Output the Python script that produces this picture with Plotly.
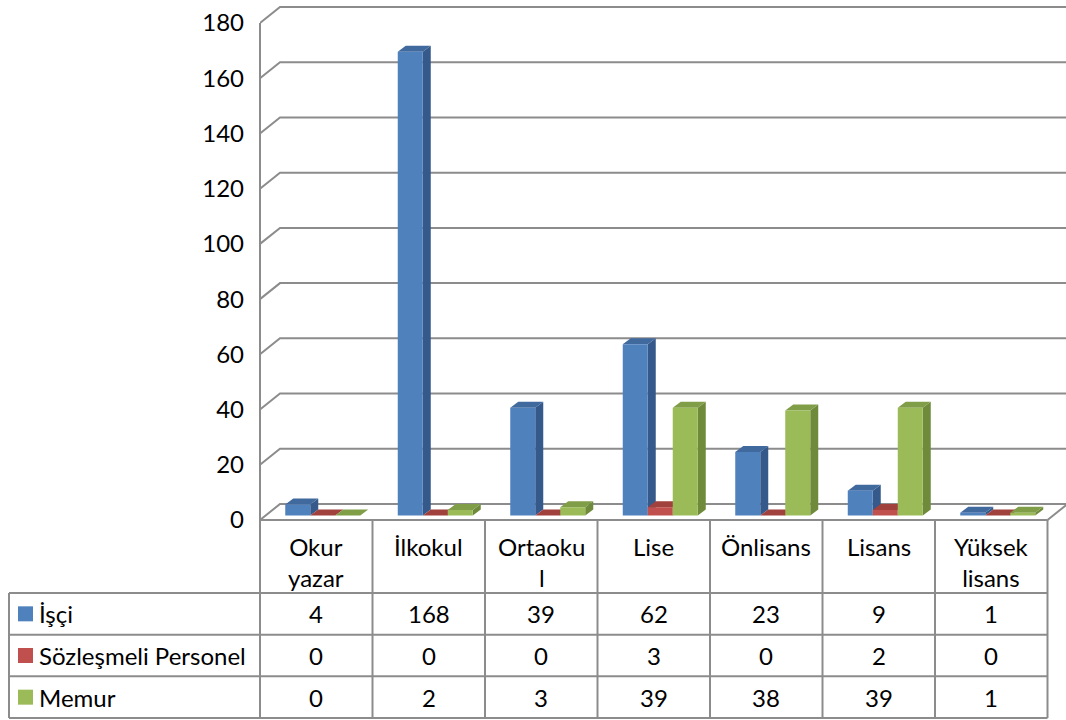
import plotly.graph_objects as go

# ---------------- data ----------------
categories = ["Okur<br>yazar", "İlkokul", "Ortaoku<br>l", "Lise", "Önlisans", "Lisans", "Yüksek<br>lisans"]
series_names = ["İşçi", "Sözleşmeli Personel", "Memur"]
isci_values = [4, 168, 39, 62, 23, 9, 1]
sozlesmeli_values = [0, 0, 0, 3, 0, 2, 0]
memur_values = [0, 2, 3, 39, 38, 39, 1]
y_tick_values = [0, 20, 40, 60, 80, 100, 120, 140, 160, 180]

series_values = [isci_values, sozlesmeli_values, memur_values]

# ---------------- styles / layout ----------------
front_colors = ["#4F81BD", "#C0504D", "#9BBB59"]
side_colors = ["#34598A", "#8C3836", "#6E8A3A"]
top_colors = ["#40699E", "#A0413E", "#809D48"]
GRID_COLOR = "#8C8C8C"
FONT = "Lato"
FS = 24

W, H = 1066, 720
PLOT_LEFT = 260
CAT_PX = 112.5
Y0_PX, YMAX_PX = 520, 23
YMAX = 180
PX_PER_Y = (Y0_PX - YMAX_PX) / YMAX
x_range = [-0.5, -0.5 + (W - PLOT_LEFT) / CAT_PX]
y_range = [-(H - Y0_PX) / PX_PER_Y, Y0_PX / PX_PER_Y]


def ux(px):
    return px / CAT_PX


def uy(px):
    return px / PX_PER_Y


def paper_x(px):
    return (px - PLOT_LEFT) / (W - PLOT_LEFT)


def paper_y(py):
    return (H - py) / H


WALL_DX, WALL_DY = ux(20), uy(16)
BAR_DX, BAR_DY = ux(6.5), uy(4.5)
DEPTH_DX, DEPTH_DY = ux(8), uy(6)
GAP = 1 / 3
BAR_W = (1 - GAP) / 3
N = len(categories)

shapes = []
# back wall gridlines with 3D left diagonal
for v in y_tick_values:
    shapes.append(dict(
        type="path", xref="x", yref="y", layer="below",
        path=f"M {-0.5},{v} L {-0.5 + WALL_DX},{v + WALL_DY} L {x_range[1] + 1},{v + WALL_DY}",
        line=dict(color=GRID_COLOR, width=2)))
# floor right diagonal
shapes.append(dict(
    type="path", xref="x", yref="y", layer="below",
    path=f"M {N - 0.5},0 L {N - 0.5 + WALL_DX},{WALL_DY}",
    line=dict(color=GRID_COLOR, width=2)))

fig = go.Figure()

for k, (name, vals) in enumerate(zip(series_names, series_values)):
    xs = []
    for i, v in enumerate(vals):
        xl = i - 0.5 + GAP / 2 + k * BAR_W + BAR_DX
        xr = xl + BAR_W
        yb = BAR_DY
        yt = yb + v
        xs.append(xl + BAR_W / 2)
        # side face
        shapes.append(dict(
            type="path", xref="x", yref="y", layer="below",
            path=(f"M {xr},{yb} L {xr + DEPTH_DX},{yb + DEPTH_DY} "
                  f"L {xr + DEPTH_DX},{yt + DEPTH_DY} L {xr},{yt} Z"),
            fillcolor=side_colors[k], line=dict(width=0)))
        # top face
        shapes.append(dict(
            type="path", xref="x", yref="y", layer="below",
            path=(f"M {xl},{yt} L {xr},{yt} L {xr + DEPTH_DX},{yt + DEPTH_DY} "
                  f"L {xl + DEPTH_DX},{yt + DEPTH_DY} Z"),
            fillcolor=top_colors[k], line=dict(width=0)))
    fig.add_trace(go.Bar(
        x=xs, y=vals, base=BAR_DY, width=BAR_W, name=name,
        marker=dict(color=front_colors[k], line=dict(width=0)),
        showlegend=False))

# ---------------- data table ----------------
TABLE_LEFT = 9
TABLE_RIGHT = PLOT_LEFT + N * CAT_PX
TABLE_TOP = 520
HEADER_BOTTOM = 593
ROW_H = (718 - HEADER_BOTTOM) / 3
TABLE_BOTTOM = HEADER_BOTTOM + 3 * ROW_H


def hline(py, x0, x1):
    shapes.append(dict(type="line", xref="paper", yref="paper",
                       x0=paper_x(x0), x1=paper_x(x1), y0=paper_y(py), y1=paper_y(py),
                       line=dict(color=GRID_COLOR, width=2)))


def vline(px, y0, y1):
    shapes.append(dict(type="line", xref="paper", yref="paper",
                       x0=paper_x(px), x1=paper_x(px), y0=paper_y(y0), y1=paper_y(y1),
                       line=dict(color=GRID_COLOR, width=2)))


hline(TABLE_TOP, PLOT_LEFT, TABLE_RIGHT)
for r in range(4):
    hline(HEADER_BOTTOM + r * ROW_H, TABLE_LEFT, TABLE_RIGHT)
vline(TABLE_LEFT, HEADER_BOTTOM, TABLE_BOTTOM)
vline(PLOT_LEFT, YMAX_PX, TABLE_BOTTOM)
for i in range(1, N + 1):
    vline(PLOT_LEFT + i * CAT_PX, TABLE_TOP, TABLE_BOTTOM)

annotations = []
for i, c in enumerate(categories):
    annotations.append(dict(xref="x", yref="paper", x=i, y=paper_y(530),
                            yanchor="top", xanchor="center", text=c, showarrow=False,
                            font=dict(family=FONT, size=FS, color="black")))
for r, (name, vals) in enumerate(zip(series_names, series_values)):
    cy = HEADER_BOTTOM + (r + 0.5) * ROW_H
    shapes.append(dict(type="rect", xref="paper", yref="paper",
                       x0=paper_x(18), x1=paper_x(33), y0=paper_y(cy - 7.5), y1=paper_y(cy + 7.5),
                       fillcolor=front_colors[r], line=dict(width=0)))
    annotations.append(dict(xref="paper", yref="paper", x=paper_x(37), y=paper_y(cy),
                            xanchor="left", yanchor="middle", text=name, showarrow=False,
                            font=dict(family=FONT, size=FS, color="black")))
    for i, v in enumerate(vals):
        annotations.append(dict(xref="x", yref="paper", x=i, y=paper_y(cy),
                                xanchor="center", yanchor="middle", text=str(v), showarrow=False,
                                font=dict(family=FONT, size=FS, color="black")))

fig.update_layout(
    width=W, height=H,
    margin=dict(l=PLOT_LEFT, r=0, t=0, b=0, pad=0),
    template="none",
    paper_bgcolor="white", plot_bgcolor="white",
    barmode="overlay",
    showlegend=False,
    font=dict(family=FONT, size=FS, color="black"),
    xaxis=dict(range=x_range, showgrid=False, zeroline=False, showline=False,
               showticklabels=False, ticks="", fixedrange=True, automargin=False),
    yaxis=dict(range=y_range, tickvals=y_tick_values, showgrid=False, zeroline=False,
               showline=False, ticks="", ticklabelstandoff=15,
               tickfont=dict(family=FONT, size=FS, color="black"), automargin=False),
    shapes=shapes,
    annotations=annotations,
)

fig.write_html("out.html",
               config={"displayModeBar": False},
               post_script="document.body.style.margin='0px';document.body.style.overflow='hidden';")
